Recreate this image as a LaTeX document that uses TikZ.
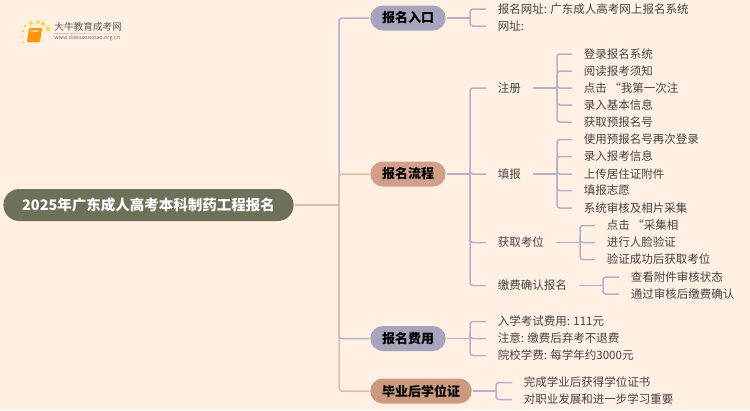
\documentclass[tikz,border=0pt]{standalone}
\usepackage{fontspec}
\setmainfont{Noto Sans CJK SC}
\usetikzlibrary{shapes.misc}
\definecolor{paper}{HTML}{FFF0E3}
\definecolor{rootfill}{HTML}{6B7259}
\definecolor{bluefill}{HTML}{A5A5BB}
\definecolor{redfill}{HTML}{D2A088}
\definecolor{brownfill}{HTML}{CB9A7F}
\definecolor{blueline}{HTML}{B2B3CB}
\definecolor{redline}{HTML}{E3BCA5}
\definecolor{leaftext}{HTML}{444444}
\tikzset{
  pill/.style={rounded rectangle, inner xsep=5.7pt, minimum height=0.5cm, inner ysep=0pt, text=black,
    font=\fontsize{7.4}{9}\selectfont\bfseries, outer sep=0.6pt},
  rootpill/.style={rounded rectangle, fill=rootfill, text=white, inner xsep=9.7pt, minimum height=0.64cm,
    inner ysep=0pt, font=\fontsize{8.25}{10}\selectfont\bfseries, outer sep=0.6pt},
  leaf/.style={anchor=west, inner xsep=6.5pt, inner ysep=0pt, text=leaftext, text height=5.6pt, text depth=1pt,
    font=\fontsize{6.55}{8}\selectfont},
  bluelink/.style={draw=blueline, line width=0.85pt, rounded corners=1.6pt},
  redlink/.style={draw=redline, line width=0.85pt, rounded corners=1.6pt},
}
\begin{document}
\begin{tikzpicture}[x=0.02cm,y=-0.02cm]
\fill[paper] (0,0) rectangle (750,410);
\useasboundingbox (0,0) rectangle (750,410);

% logo
\foreach \dx/\dy/\dr in {25/26/1.7,31/23/2,38/22/2,43/24/2.2,48/29/2.4,23/31/1.4,22/37/1.2,23/42/1}
  \fill[yellow!70!orange!75!white] (\dx,\dy) circle (\dr);
\fill[orange!85!yellow, rounded corners=0.5pt] (29,28) -- (42,28) -- (40,42) -- (27,42) -- cycle;
\fill[orange!40!white] (31,30) -- (39,30) -- (38.6,32) -- (30.6,32) -- cycle;
\node[inner sep=0pt, anchor=west, text=black!65, font=\fontsize{5.5}{7}\selectfont] (logotext) at (54,27) {大牛教育成考网};
\node[inner sep=0pt, anchor=west, text=black!55, font=\fontsize{3.1}{4}\selectfont] (logourl) at (54,38.5) {www.daniuxuexiao.org.cn};
\shade[left color=black!25, right color=paper] (54,33) rectangle (132,33.7);

% root and first level
\node[rootpill] (root) at (148.5,205) {2025年广东成人高考本科制药工程报名};
\node[pill, fill=bluefill] (entry) at (408,18) {报名入口};
\node[pill, fill=redfill] (flow) at (408,174) {报名流程};
\node[pill, fill=bluefill] (fee) at (408,338.5) {报名费用};
\node[pill, fill=brownfill] (degree) at (421,391) {毕业后学位证};

% second level
\node[leaf] (site) at (486,9) {报名网址: 广东成人高考网上报名系统};
\node[leaf] (url) at (486,26) {网址:};
\node[leaf] (reg) at (486,88) {注册};
\node[leaf] (fill) at (486,174) {填报};
\node[leaf] (seat) at (486,242.5) {获取考位};
\node[leaf] (pay) at (486,285.5) {缴费确认报名};
\node[leaf] (cost) at (486,321.5) {入学考试费用: 111元};
\node[leaf] (note) at (486,338.5) {注意: 缴费后弃考不退费};
\node[leaf] (tuition) at (486,355.5) {院校学费: 每学年约3000元};
\node[leaf] (cert) at (512,382.5) {完成学业后获得学位证书};
\node[leaf] (career) at (512,399.5) {对职业发展和进一步学习重要};

% third level
\node[leaf] (login) at (572,54) {登录报名系统};
\node[leaf] (read) at (572,71) {阅读报考须知};
\node[leaf] (click) at (572,88) {点击 “我第一次注};
\node[leaf] (basic) at (572,105) {录入基本信息};
\node[leaf] (prenum) at (572,122) {获取预报名号};
\node[leaf] (relog) at (572,139.5) {使用预报名号再次登录};
\node[leaf] (info) at (572,156.5) {录入报考信息};
\node[leaf] (upload) at (572,174) {上传居住证附件};
\node[leaf] (wish) at (572,190.5) {填报志愿};
\node[leaf] (photo) at (572,208) {系统审核及相片采集};
\node[leaf] (collect) at (595,225.5) {点击 “采集相};
\node[leaf] (face) at (595,242.5) {进行人脸验证};
\node[leaf] (getseat) at (595,259.5) {验证成功后获取考位};
\node[leaf] (check) at (619,277) {查看附件审核状态};
\node[leaf] (confirm) at (619,294) {通过审核后缴费确认};

% connectors
\coordinate (trunk) at (339,205);
\coordinate (busa) at (470,0);
\coordinate (busb) at (557,0);
\coordinate (busc) at (580,0);
\coordinate (busd) at (603,0);
\coordinate (buse) at (496,0);

\draw[bluelink] (trunk) |- (entry.west);
\draw[bluelink] (trunk) |- (fee.west);
\draw[redlink] (trunk) |- (flow.west);
\draw[redlink] (trunk) |- (degree.west);
\draw[redlink] (root.east) -- (trunk);

\foreach \top/\bus/\kids in {entry/busa/{site,url},flow/busa/{reg,fill,seat,pay},fee/busa/{cost,note,tuition},
    degree/buse/{cert,career},reg/busb/{login,read,click,basic,prenum},fill/busb/{relog,info,upload,wish,photo},
    seat/busc/{collect,face,getseat},pay/busd/{check,confirm}} {
  \draw[bluelink] (\top.east) -- (\top.east -| \bus);
  \foreach \kid in \kids
    \draw[bluelink] (\top.east -| \bus) |- (\kid.west);
}
\end{tikzpicture}
\end{document}
